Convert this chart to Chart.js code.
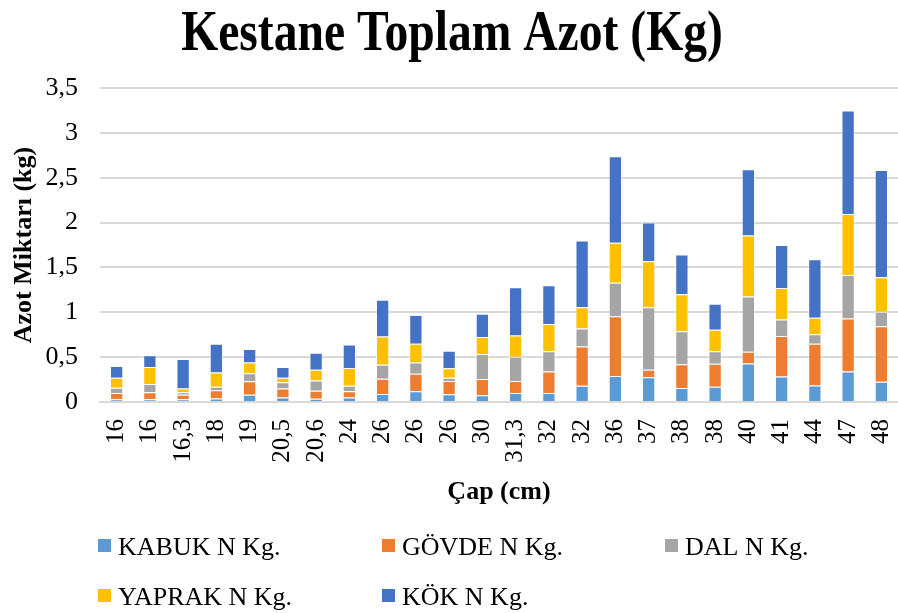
<!DOCTYPE html>
<html>
<head>
<meta charset="utf-8">
<script src="https://cdn.jsdelivr.net/npm/chart.js@4/dist/chart.umd.min.js"></script>
<style>
  body { margin: 0; background: #fff; }
</style>
</head>
<body>
<canvas id="grafico" width="898" height="613"></canvas>
<script>
// Kategoriler (çap, cm)
const capEtiketleri = ["16", "16", "16,3", "18", "19", "20,5", "20,6", "24", "26", "26", "26", "30",
  "31,3", "32", "32", "36", "37", "38", "38", "40", "41", "44", "47", "48"];

// Seriler (kg)
const kabukN  = [0.03, 0.03, 0.03, 0.04, 0.08, 0.05, 0.035, 0.05, 0.09, 0.12, 0.085, 0.075,
  0.10, 0.10, 0.18, 0.29, 0.275, 0.155, 0.17, 0.43, 0.285, 0.185, 0.34, 0.225];
const govdeN  = [0.07, 0.08, 0.05, 0.09, 0.15, 0.10, 0.09, 0.07, 0.17, 0.195, 0.15, 0.18,
  0.135, 0.24, 0.44, 0.665, 0.085, 0.265, 0.255, 0.13, 0.45, 0.465, 0.59, 0.62];
const dalN    = [0.06, 0.09, 0.03, 0.04, 0.09, 0.07, 0.115, 0.06, 0.155, 0.125, 0.035, 0.28,
  0.27, 0.225, 0.20, 0.375, 0.695, 0.37, 0.14, 0.615, 0.185, 0.105, 0.485, 0.16];
const yaprakN = [0.11, 0.19, 0.04, 0.16, 0.12, 0.05, 0.12, 0.20, 0.315, 0.21, 0.105, 0.19,
  0.235, 0.305, 0.235, 0.445, 0.515, 0.41, 0.24, 0.68, 0.35, 0.185, 0.68, 0.385];
const kokN    = [0.13, 0.13, 0.33, 0.32, 0.15, 0.12, 0.19, 0.26, 0.41, 0.32, 0.195, 0.26,
  0.54, 0.43, 0.745, 0.965, 0.43, 0.445, 0.29, 0.74, 0.48, 0.65, 1.155, 1.195];

const yEtiketleri = ["0", "0,5", "1", "1,5", "2", "2,5", "3", "3,5"];

const seriler = [
  { ad: "KABUK N Kg.",  veri: kabukN,  renk: "#5B9BD5" },
  { ad: "GÖVDE N Kg.",  veri: govdeN,  renk: "#ED7D31" },
  { ad: "DAL N Kg.",    veri: dalN,    renk: "#A5A5A5" },
  { ad: "YAPRAK N Kg.", veri: yaprakN, renk: "#FFC000" },
  { ad: "KÖK N Kg.",    veri: kokN,    renk: "#4472C4" }
];

const serif = "'Liberation Serif', 'Times New Roman', serif";

// Başlık: sıkıştırılmış kalın yazı (orijinaldeki gibi dar)
const baslikEklentisi = {
  id: "baslik",
  afterDraw(chart) {
    const ctx = chart.ctx;
    ctx.save();
    ctx.fillStyle = "#000";
    ctx.font = "bold 56px " + serif;
    ctx.textAlign = "center";
    ctx.textBaseline = "alphabetic";
    ctx.translate(452, 50);
    ctx.scale(0.85, 1);
    ctx.fillText("Kestane Toplam Azot (Kg)", 0, 0);
    ctx.restore();

    // X ekseni başlığı
    const a = chart.chartArea;
    ctx.save();
    ctx.fillStyle = "#000";
    ctx.font = "bold 26px " + serif;
    ctx.textAlign = "center";
    ctx.textBaseline = "alphabetic";
    ctx.fillText("Çap (cm)", (a.left + a.right) / 2, 499);
    ctx.restore();
  }
};

// Açıklama, iki satır halinde
const aciklamaEklentisi = {
  id: "aciklama",
  afterDraw(chart) {
    const ctx = chart.ctx;
    const konumlar = [[98, 539], [382, 539], [665, 539], [98, 589], [382, 589]];
    ctx.save();
    ctx.font = "26px " + serif;
    ctx.textBaseline = "alphabetic";
    ctx.textAlign = "left";
    seriler.forEach((s, i) => {
      const [x, y] = konumlar[i];
      ctx.fillStyle = s.renk;
      ctx.fillRect(x, y, 13, 13);
      ctx.fillStyle = "#000";
      ctx.fillText(s.ad, x + 20, y + 16);
    });
    ctx.restore();
  }
};

new Chart(document.getElementById("grafico"), {
  type: "bar",
  data: {
    labels: capEtiketleri,
    datasets: seriler.map(s => ({
      label: s.ad,
      data: s.veri,
      backgroundColor: s.renk,
      borderColor: "rgba(255,255,255,0.5)",
      borderWidth: 1,
      barPercentage: 0.4,
      categoryPercentage: 1
    }))
  },
  plugins: [baslikEklentisi, aciklamaEklentisi],
  options: {
    responsive: false,
    animation: false,
    layout: { padding: { left: 5, right: -10, top: 88, bottom: 127 } },
    plugins: {
      legend: { display: false },
      tooltip: { enabled: false },
      title: { display: false }
    },
    scales: {
      x: {
        stacked: true,
        grid: { display: false },
        border: { color: "#d9d9d9", width: 2 },
        afterFit(scale) {
          scale.paddingLeft = 0;
          scale.paddingRight = 0;
          scale.height = 84;
        },
        ticks: {
          autoSkip: false,
          minRotation: 90,
          maxRotation: 90,
          padding: 9,
          color: "#000",
          font: { family: serif, size: 25 }
        }
      },
      y: {
        stacked: true,
        min: 0,
        max: 3.5,
        border: { display: false },
        grid: { color: "#d9d9d9", lineWidth: 2, drawTicks: false },
        afterFit(scale) {
          scale.width = 95;
          scale.paddingTop = 0;
          scale.paddingBottom = 0;
        },
        ticks: {
          stepSize: 0.5,
          padding: 22,
          color: "#000",
          font: { family: serif, size: 26 },
          callback: (v, i) => yEtiketleri[i]
        },
        title: {
          display: true,
          text: "Azot Miktarı (kg)",
          color: "#000",
          font: { family: serif, size: 26, weight: "bold" },
          padding: { top: 4, bottom: 4 }
        }
      }
    }
  }
});
</script>
</body>
</html>
